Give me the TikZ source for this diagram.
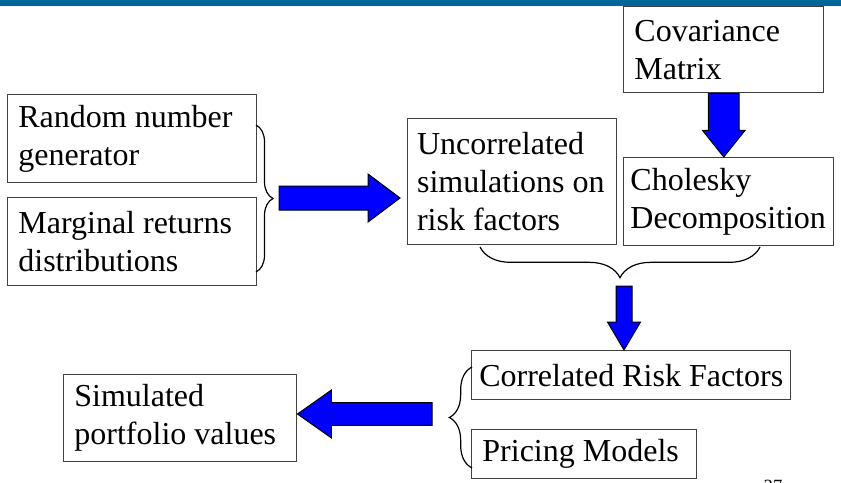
\documentclass[tikz,border=0pt]{standalone}
\usepackage{fontspec}
\setmainfont{Liberation Serif}
\usetikzlibrary{calc,decorations.pathreplacing}
\definecolor{barblue}{RGB}{0,102,153}
\definecolor{boxgray}{RGB}{64,64,64}

% fat block arrow: from, to, half shaft, half head, head length
\newcommand{\blockarrow}[5]{%
  \path ($(#2)!#5!(#1)$) coordinate (ab);
  \filldraw[fatarrow] ($(#1)!#3!90:(#2)$) -- ($(ab)!#3!90:(#2)$) -- ($(ab)!#4!90:(#2)$) -- (#2)
    -- ($(ab)!#4!-90:(#2)$) -- ($(ab)!#3!-90:(#2)$) -- ($(#1)!#3!-90:(#2)$) -- cycle;}

\begin{document}
\begin{tikzpicture}[x=0.75pt,y=-0.75pt,
  box/.style={draw=boxgray, line width=1.1pt, align=flush left, anchor=north west,
    inner xsep=8pt, inner ysep=0pt, font=\fontsize{24}{28.5}\selectfont},
  fatarrow/.style={fill=blue, draw=black, line width=0.75pt},
  brace/.style={decorate, draw=black, line width=0.9pt}]
\useasboundingbox (0,0) rectangle (841,482);
\fill[barblue] (0,0) rectangle (841,6);

\node[box, text width=170.75pt, minimum height=66pt] (rng) at (7,94) {Random number\\generator};
\node[box, text width=170.75pt, minimum height=66pt] (marg) at (7,197) {Marginal returns\\distributions};
\node[box, inner xsep=7pt, text width=142.75pt, minimum height=94.5pt] (uncor) at (407,118) {Uncorrelated\\simulations on\\risk factors};
\node[box, text width=134pt, minimum height=64.5pt] (cov) at (623,6) {Covariance\\Matrix};
\node[box, inner xsep=5pt, text width=147.5pt, minimum height=66pt] (chol) at (623,157) {Cholesky\\Decomposition};
\node[box, inner xsep=2pt, minimum width=239.25pt, minimum height=36.75pt] (corr) at (471,350) {Correlated Risk Factors};
\node[box, text width=152.75pt, minimum height=36.75pt] (pricing) at (471,429) {Pricing Models};
\node[box, text width=158.75pt, minimum height=65.25pt] (sim) at (63,374) {Simulated\\portfolio values};

% braces
\draw[brace, decoration={brace, amplitude=12.75pt}] (256,125) -- (256,272);
\draw[brace, decoration={brace, amplitude=23pt}] (760,247) -- (480,247);
\draw[brace, decoration={brace, amplitude=17pt}] (472,468) -- (472,367);

% arrows
\coordinate (ra1) at (279,198);
\coordinate (ra2) at (400,198);
\coordinate (da1) at (cov.south);
\coordinate (da2) at (cov.south |- chol.north);
\coordinate (db1) at (624,286);
\coordinate (db2) at (db1 |- corr.north);
\coordinate (la1) at (432,414);
\coordinate (la2) at (sim.east |- la1);
\blockarrow{ra1}{ra2}{9pt}{18pt}{24pt}
\blockarrow{da1}{da2}{11.6pt}{16pt}{20pt}
\blockarrow{db1}{db2}{6pt}{12.4pt}{21pt}
\blockarrow{la1}{la2}{8.6pt}{18pt}{25.5pt}

\node[anchor=north, inner sep=0pt, font=\fontsize{14}{16}\selectfont] (pg) at (773,480) {37};
\end{tikzpicture}
\end{document}
